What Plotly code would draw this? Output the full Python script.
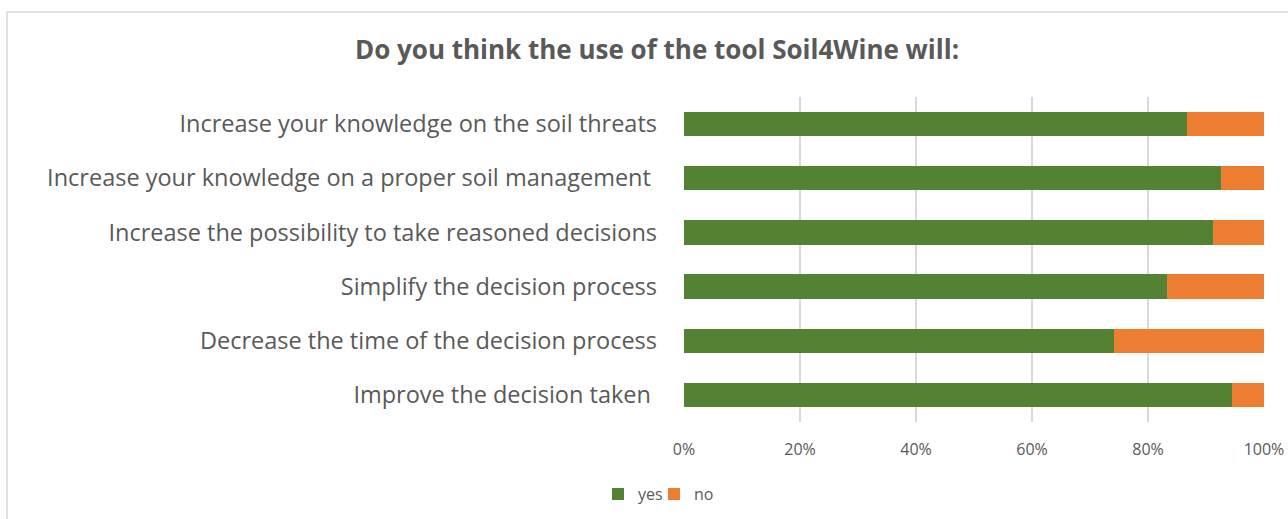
import plotly.graph_objects as go

categories = [
    "Increase your knowledge on the soil threats",
    "Increase your knowledge on a proper soil management\u00a0",
    "Increase the possibility to take reasoned decisions",
    "Simplify the decision process",
    "Decrease the time of the decision process",
    "Improve the decision taken\u00a0",
]
yes_vals = [86.7, 92.5, 91.2, 83.3, 74.2, 94.5]
no_vals = [round(100 - v, 1) for v in yes_vals]
tick_vals = [0, 20, 40, 60, 80, 100]
tick_text = ["0%", "20%", "40%", "60%", "80%", "100%"]

GREEN = "#548235"
ORANGE = "#ED7D31"
TXT = "#595959"
FONT = "Open Sans"

fig = go.Figure()
fig.add_trace(go.Bar(y=categories, x=yes_vals, name="yes", orientation="h",
                     marker=dict(color=GREEN, line=dict(width=0)),
                     legend="legend", showlegend=True))
fig.add_trace(go.Bar(y=categories, x=no_vals, name="no", orientation="h",
                     marker=dict(color=ORANGE, line=dict(width=0)),
                     legend="legend2", showlegend=True))

leg_common = dict(orientation="h", yanchor="middle", y=-0.222, xanchor="left",
                  font=dict(size=16, color=TXT), itemwidth=30, visible=True,
                  bgcolor="rgba(0,0,0,0)")

fig.update_layout(
    width=1288, height=519, showlegend=True,
    barmode="stack", bargap=0.55,
    paper_bgcolor="white", plot_bgcolor="white",
    margin=dict(l=684, r=24, t=97, b=97, autoexpand=False),
    font=dict(family=FONT, color=TXT),
    title=dict(text="<b>Do you think the use of the tool Soil4Wine will:</b>",
               x=657 / 1288, xanchor="center", y=1 - 50 / 519, yanchor="middle",
               font=dict(size=26, color=TXT, family=FONT)),
    xaxis=dict(range=[0, 100], tickvals=tick_vals, ticktext=tick_text,
               showgrid=True, gridcolor="#D9D9D9", gridwidth=1.5, zeroline=False,
               showline=False, ticks="", tickfont=dict(size=16, color=TXT),
               ticklabelstandoff=16, automargin=False, fixedrange=True),
    yaxis=dict(categoryorder="array", categoryarray=categories[::-1],
               showgrid=False, showline=False, ticks="",
               tickfont=dict(size=23.5, color=TXT), ticklabelstandoff=26,
               automargin=False, fixedrange=True),
    legend=dict(x=(598 - 684) / 580, **leg_common),
    legend2=dict(x=(654 - 684) / 580, **leg_common),
    shapes=[dict(type="rect", xref="paper", yref="paper",
                 x0=(7 - 684) / 580, x1=(1300 - 684) / 580,
                 y0=(422 - 530) / 325, y1=(422 - 12) / 325,
                 line=dict(color="#D9D9D9", width=1.5), fillcolor="rgba(0,0,0,0)",
                 layer="below")],
)

fig.write_html("out.html", config={"displayModeBar": False},
               post_script="document.body.style.margin='0';")
